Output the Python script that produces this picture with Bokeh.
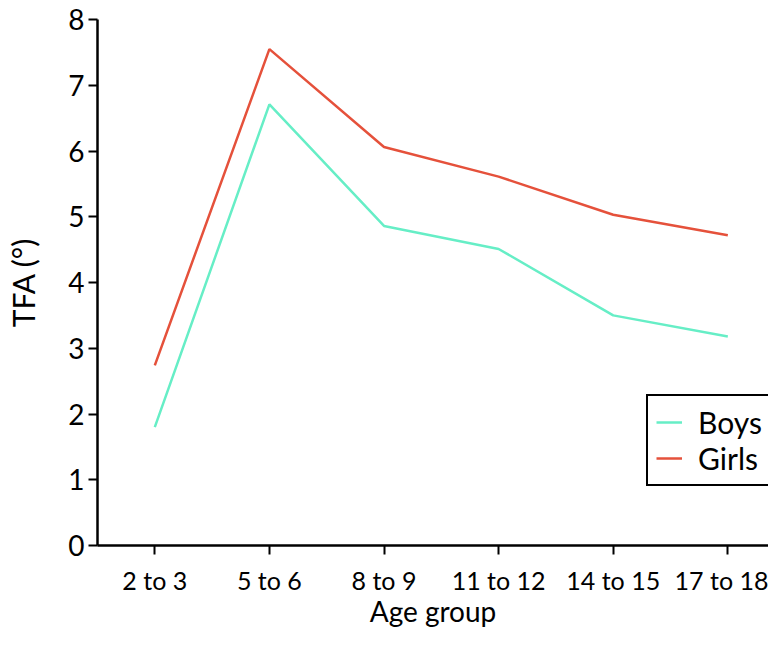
from bokeh.plotting import figure
from bokeh.models import Range1d, Legend, LegendItem, FixedTicker
from bokeh.embed import file_html
from bokeh.resources import INLINE

age_groups = ["2 to 3", "5 to 6", "8 to 9", "11 to 12", "14 to 15", "17 to 18"]
boys = [1.80, 6.71, 4.86, 4.51, 3.50, 3.18]
girls = [2.74, 7.55, 6.06, 5.61, 5.03, 4.72]
y_ticks = [0, 1, 2, 3, 4, 5, 6, 7, 8]

FONT = "Lato"
x_idx = list(range(len(age_groups)))

p = figure(width=768, height=644, output_backend="svg", toolbar_location=None,
           x_range=Range1d(-0.5, 5.355), y_range=Range1d(0, 8),
           min_border_left=97, min_border_right=0, min_border_top=19, min_border_bottom=99)
p.outline_line_color = None
p.xgrid.grid_line_color = None
p.ygrid.grid_line_color = None
p.background_fill_color = "white"

r_boys = p.line(x_idx, boys, line_color="#66EEC6", line_width=2.5)
r_girls = p.line(x_idx, girls, line_color="#E5513B", line_width=2.5)

for ax in (p.xaxis[0], p.yaxis[0]):
    ax.axis_line_width = 2.5
    ax.axis_line_color = "black"
    ax.major_tick_line_color = "black"
    ax.major_tick_line_width = 2
    ax.major_tick_out = 9
    ax.major_tick_in = 0
    ax.minor_tick_line_color = None
    ax.major_label_text_font = FONT
    ax.major_label_text_color = "black"
    ax.axis_label_text_font = FONT
    ax.axis_label_text_font_style = "normal"
    ax.axis_label_text_color = "black"
    ax.axis_label_text_font_size = "28px"

p.yaxis.ticker = FixedTicker(ticks=y_ticks)
p.yaxis.major_label_text_font_size = "28px"
p.yaxis.major_label_standoff = 4
p.yaxis.axis_label = "TFA (°)"
p.yaxis.axis_label_text_font_size = "30px"
p.yaxis.axis_label_standoff = 24

p.xaxis.ticker = FixedTicker(ticks=x_idx)
p.xaxis.major_label_overrides = {i: g for i, g in zip(x_idx, age_groups)}
p.xaxis.major_label_text_font_size = "25px"
p.xaxis.major_label_standoff = 10
p.xaxis.axis_label = "Age group"
p.xaxis.axis_label_standoff = -4

legend = Legend(items=[LegendItem(label="Boys", renderers=[r_boys]),
                       LegendItem(label="Girls", renderers=[r_girls])],
                location=(549, 59))
legend.label_text_font = FONT
legend.label_text_font_size = "30px"
legend.label_text_color = "black"
legend.border_line_color = "black"
legend.border_line_alpha = 1.0
legend.border_line_width = 2
legend.padding = 8
legend.margin = 0
legend.spacing = 0
legend.label_height = 36
legend.glyph_height = 36
legend.glyph_width = 26
legend.label_standoff = 16
legend.background_fill_alpha = 1
p.add_layout(legend)

open("out.html", "w").write(file_html(p, INLINE))
